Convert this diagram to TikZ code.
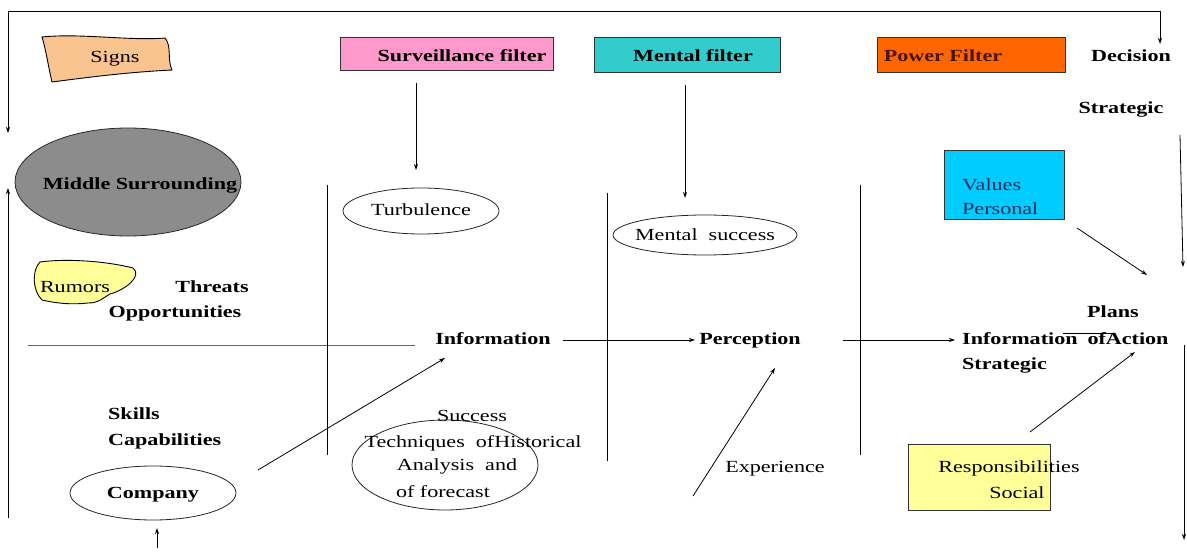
\documentclass[tikz,border=0pt]{standalone}
\usepackage{fontspec}
\setmainfont{Liberation Serif}[FakeStretch=1.3]
\usetikzlibrary{arrows.meta,shapes.geometric}
\definecolor{peach}{HTML}{F9C48F}
\definecolor{pinkf}{HTML}{FF99CC}
\definecolor{tealf}{HTML}{33CCCC}
\definecolor{orangef}{HTML}{FF6600}
\definecolor{grayf}{HTML}{8C8C8C}
\definecolor{cyanf}{HTML}{00CCFF}
\definecolor{yellowf}{HTML}{FFFF99}
\definecolor{navyt}{HTML}{1A2A5A}
\definecolor{browntxt}{HTML}{4A1500}
\begin{document}
\begin{tikzpicture}[x=1pt,y=-1pt,
  every node/.style={inner sep=0pt, font=\fontsize{17}{20}\selectfont},
  txt/.style={text height=12pt, text depth=2pt},
  bt/.style={txt, font=\fontsize{17}{20}\selectfont\bfseries},
  line/.style={draw=black, line width=0.8pt},
  arr/.style={line, -{Stealth[length=6pt,width=4pt]}},
  fbox/.style={draw=black!80, line width=1pt},
  oval/.style={ellipse, draw=black!85, line width=0.8pt},
]
\useasboundingbox (0,0) rectangle (1187,553);

% coloured boxes
\node[fbox, fill=pinkf, minimum width=213pt, minimum height=33pt, anchor=north west] (sfbox) at (340,37) {};
\node[fbox, fill=tealf, minimum width=186pt, minimum height=35pt, anchor=north west] (mfbox) at (594,37) {};
\node[fbox, fill=orangef, minimum width=188pt, minimum height=35pt, anchor=north west] (pfbox) at (877,37) {};
\node[fbox, fill=cyanf, minimum width=120pt, minimum height=69pt, anchor=north west] (vbox) at (944,150) {};
\node[fbox, fill=yellowf, minimum width=142pt, minimum height=66pt, anchor=north west] (rbox) at (908,444) {};

% blobs
\draw[fill=peach, line width=0.9pt] (42,37) .. controls (80,33) and (130,41) .. (165,38)
  .. controls (172,46) and (167,60) .. (172,70) .. controls (130,72) and (90,77) .. (52,82)
  .. controls (48,65) and (46,50) .. (42,37) -- cycle;
\draw[fill=yellowf, line width=0.9pt] (40,262) .. controls (70,258) and (110,262) .. (133,268)
  .. controls (143,276) and (125,290) .. (110,294) .. controls (100,300) and (98,303) .. (88,303)
  .. controls (70,305) and (55,303) .. (42,300) .. controls (32,290) and (32,270) .. (40,262) -- cycle;

% ellipses
\node[oval, fill=grayf, minimum width=226pt, minimum height=108pt] (ms) at (128,182) {};
\node[oval, minimum width=156pt, minimum height=46pt] (turb) at (421,211) {};
\node[oval, minimum width=184pt, minimum height=40pt] (msucc) at (705,235) {};
\node[oval, minimum width=166pt, minimum height=54pt] (comp) at (153,493) {};
\node[oval, minimum width=186pt, minimum height=90pt] (tech) at (445,465) {};

% texts
\node[txt] (turbt) at (421,211) {Turbulence};
\node[txt] (msuct) at (705,236) {Mental\ \ success};
\node[txt] (signs) at (115,58) {Signs};
\node[bt] (sft) at (462,57) {Surveillance filter};
\node[bt] (mft) at (693,57) {Mental filter};
\node[bt, text=browntxt] (pft) at (943,57) {Power Filter};
\node[bt] (dec) at (1131,57) {Decision};
\node[bt] (strat) at (1121,109) {Strategic};
\node[bt] (mst) at (140,185) {Middle Surrounding};
\node[txt, text=navyt, anchor=west] (val) at (962,186) {Values};
\node[txt, text=navyt, anchor=west] (pers) at (962,210) {Personal};
\node[txt] (rum) at (75,288) {Rumors};
\node[bt] (thr) at (212,288) {Threats};
\node[bt] (opp) at (175,313) {Opportunities};
\node[bt] (info) at (493,340) {Information};
\node[bt] (perc) at (750,340) {Perception};
\node[bt, anchor=west] (info2) at (962,340) {Information};
\node[bt, anchor=west] (strat2) at (962,365) {Strategic};
\node[bt] (plans) at (1113,313) {Plans};
\node[bt] (ofact) at (1128,340) {ofAction};
\node[bt, anchor=west] (skills) at (108,415) {Skills};
\node[bt, anchor=west] (capab) at (108,441) {Capabilities};
\node[bt] (compt) at (153,493) {Company};
\node[txt] (succ) at (472,416) {Success};
\node[txt] (techt) at (473,442) {Techniques\ \ ofHistorical};
\node[txt] (anal) at (457,466) {Analysis\ \ and};
\node[txt] (fore) at (443,492) {of forecast};
\node[txt] (exp) at (775,467) {Experience};
\node[txt] (resp) at (1009,467) {Responsibilities};
\node[txt] (soc) at (1017,493) {Social};

% free ends
\coordinate (frameL) at (8,133);
\coordinate (frameR) at (1160,44);
\coordinate (leftB) at (8,518);
\coordinate (leftT) at (8,188);
\coordinate (hl1) at (28,345);
\coordinate (hl2) at (415,345);
\coordinate (v1a) at (327,185); \coordinate (v1b) at (327,455);
\coordinate (v2a) at (607,193); \coordinate (v2b) at (607,461);
\coordinate (v3a) at (860,185); \coordinate (v3b) at (860,455);
\coordinate (sfa) at (416,83); \coordinate (sfb) at (416,170);
\coordinate (mfa) at (685,85); \coordinate (mfb) at (685,198);
\coordinate (ip1) at (563,340); \coordinate (ip2) at (695,340);
\coordinate (pi1) at (843,340); \coordinate (pi2) at (955,340);
\coordinate (va) at (1077,228); \coordinate (vb) at (1147,275);
\coordinate (r1a) at (1180,135); \coordinate (r1b) at (1183,267);
\coordinate (r2a) at (1184,345); \coordinate (r2b) at (1184,540);
\coordinate (sl1) at (1063,333); \coordinate (sl2) at (1113,333);
\coordinate (ra) at (1030,432); \coordinate (rb) at (1135,352);
\coordinate (ea) at (693,496); \coordinate (eb) at (775,368);
\coordinate (ca) at (258,470); \coordinate (cb) at (445,358);
\coordinate (ba) at (157,548); \coordinate (bb) at (157,528);

% connectors
\draw[line, {Stealth[length=6pt,width=4pt]}-{Stealth[length=6pt,width=4pt]}] (frameL) |- (1160,11) -- (frameR);
\draw[arr] (leftB) -- (leftT);
\draw[draw=black!60, line width=0.8pt] (hl1) -- (hl2);
\draw[line] (v1a) -- (v1b);
\draw[line] (v2a) -- (v2b);
\draw[line] (v3a) -- (v3b);
\draw[arr] (sfa) -- (sfb);
\draw[arr] (mfa) -- (mfb);
\draw[arr] (ip1) -- (ip2);
\draw[arr] (pi1) -- (pi2);
\draw[arr] (va) -- (vb);
\draw[arr] (r1a) -- (r1b);
\draw[arr] (r2a) -- (r2b);
\draw[line] (sl1) -- (sl2);
\draw[arr] (ra) -- (rb);
\draw[arr] (ea) -- (eb);
\draw[arr] (ca) -- (cb);
\draw[arr] (ba) -- (bb);
\end{tikzpicture}
\end{document}
